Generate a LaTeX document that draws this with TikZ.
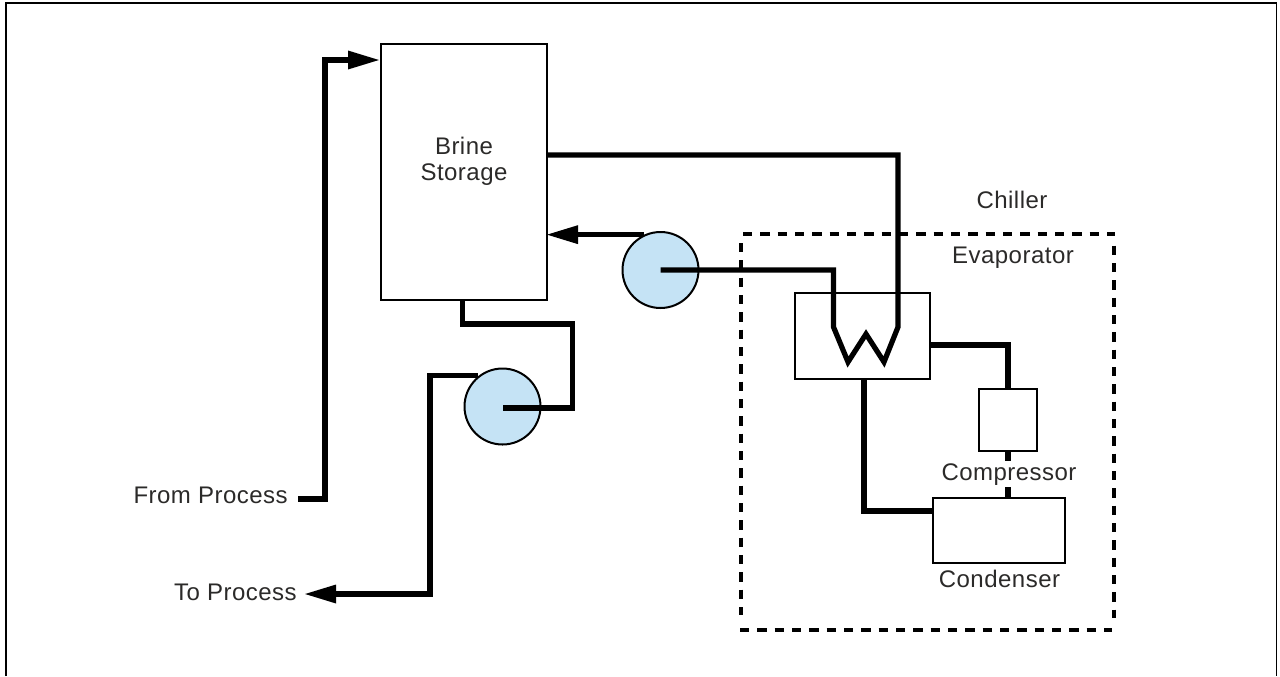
\documentclass[tikz,border=0pt]{standalone}
\usepackage{fontspec}
\setmainfont{Liberation Sans}
\usetikzlibrary{arrows.meta}

\definecolor{pumpblue}{HTML}{C5E3F5}
\definecolor{labelgray}{HTML}{2B2A29}

\tikzset{
  unit/.style={draw, line width=1.5pt, fill=white, inner sep=0pt},
  pump/.style={circle, draw, line width=1.5pt, fill=pumpblue, minimum size=57pt, inner sep=0pt},
  pipe/.style={line width=3.9pt, miter limit=10},
  pipearrow/.style={pipe, -{Triangle[length=24pt, width=13pt]}},
  chillerline/.style={line width=3.3pt, dash pattern=on 7pt off 6pt},
  lbl/.style={text=labelgray, font=\fontsize{18}{19.5}\selectfont\addfontfeature{LetterSpace=2},
    inner sep=0pt, align=center}
}

\begin{document}
\begin{tikzpicture}[x=0.75pt, y=-0.75pt]
  \useasboundingbox (0, 0) rectangle (1280, 676);

  % Outer frame
  \draw[line width=1.1pt] (5.8, 676) -- (5.8, 2.8) -- (1276.5, 2.8) -- (1276.5, 676);

  % Chiller outline
  \draw[chillerline] (743, 234) -- (1115, 234);
  \draw[chillerline] (1114, 245.7) -- (1114, 618);
  \draw[chillerline] (740, 630) -- (1112, 630);
  \draw[chillerline] (741, 243) -- (741, 615);

  % Units
  \node[unit, minimum width=124.5pt, minimum height=192pt] (brine) at (464, 172) {};
  \node[unit, minimum width=101pt, minimum height=64.5pt] (evap) at (862.5, 336) {};
  \node[unit, minimum width=43.5pt, minimum height=46.5pt] (comp) at (1008, 420) {};
  \node[unit, minimum width=99pt, minimum height=48.75pt] (cond) at (999, 530.5) {};
  \node[pump] (pumpa) at (660.5, 270) {};
  \node[pump] (pumpb) at (502.5, 406.5) {};

  % Free ends
  \coordinate (fromend) at (298, 499);
  \coordinate (toend) at (304, 594);

  % Brine loop
  \draw[pipearrow] (fromend) -- (325, 499) -- (325, 60) -- (brine.west |- 0, 60);
  \draw[pipe] (462.5, 0 |- brine.south) -- (462.5, 324) -- (572.5, 324) -- (572.5, 408) -- (pumpb.center |- 0, 408);
  \draw[pipearrow] (pumpb.128) -| (430, 594) -- (toend);
  \draw[pipearrow, shorten >=-1.5pt] (pumpa.115) -- (brine.east |- pumpa.115);

  % Coil
  \draw[pipe] (pumpa.center) -- (833.5, 270) -- (833.5, 327) -- (848, 362) -- (866, 334) -- (884, 362)
    -- (898, 327) -- (898, 155) -- (brine.east |- 0, 155);

  % Refrigerant side
  \draw[pipe] (evap.east |- 0, 345) -- (1008, 345) -- (comp.north);
  \draw[pipe] (comp.south) -- (1008, 0 |- cond.north);
  \draw[pipe] (864, 0 |- evap.south) -- (864, 511) -- (cond.west |- 0, 511);

  % Labels
  \node[lbl] (brinetext) at (464, 161.5) {Brine\\Storage};
  \node[lbl, anchor=base] (chiller) at (1012, 208) {Chiller};
  \node[lbl, anchor=base] (evaptext) at (1013, 263) {Evaporator};
  \node[lbl, anchor=base, fill=white, inner ysep=1.5pt] (comptext) at (1009, 480) {Compressor};
  \node[lbl, anchor=base] (condtext) at (999.5, 587) {Condenser};
  \node[lbl, anchor=base east] (fromtext) at (288, 503) {From Process};
  \node[lbl, anchor=base east] (totext) at (297, 600) {To Process};
\end{tikzpicture}
\end{document}
